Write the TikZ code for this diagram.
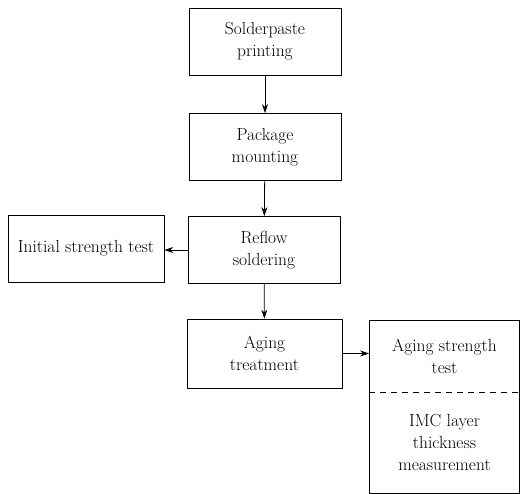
\documentclass[tikz,border=0pt]{standalone}
\usepackage{tikz}
\usetikzlibrary{arrows.meta}
\usetikzlibrary{positioning, shapes}

\begin{document}
\begin{tikzpicture}
[
   x=1pt, y=-1pt,
   every node/.style={font=\fontsize{17.5}{22}\selectfont, align=center},
   stepbox/.style={draw, line width=0.8pt, minimum width=152pt, minimum height=67pt, inner sep=0pt},
   flow/.style={line width=0.8pt, -{Stealth[length=9pt,width=6pt]}}]
\useasboundingbox (0,0) rectangle (521,494);
\node[stepbox] (paste) at (265,41.5) {Solderpaste\\printing};
\node[stepbox] (mount) at (265,147) {Package\\mounting};
\node[stepbox] (reflow) at (264,250) {Reflow\\soldering};
\node[stepbox, minimum width=156pt] (init) at (86,248.5) {Initial strength test};
\node[stepbox, minimum width=155pt, minimum height=69pt] (aging) at (264.5,353.5) {Aging\\treatment};
% result box, split by dashed line
\node[stepbox, minimum width=150pt, minimum height=173pt] (res) at (444.5,406.5) {};
\coordinate (split) at (0,392);
\draw[dash pattern=on 6pt off 5pt, line width=0.8pt] (res.west |- split) -- (res.east |- split);
\node (agetest) at (444.5,356) {Aging strength\\test};
\node (imc) at (444.5,442.5) {IMC layer\\thickness\\measurement};

\draw[flow] (paste) -- (mount);
\draw[flow] (mount) -- (reflow);
\draw[flow] (reflow.west) -- (init.east |- reflow.west);
\draw[flow] (reflow) -- (aging);
\draw[flow] (aging.east) -- (res.west |- aging.east);
\end{tikzpicture}
\end{document}
